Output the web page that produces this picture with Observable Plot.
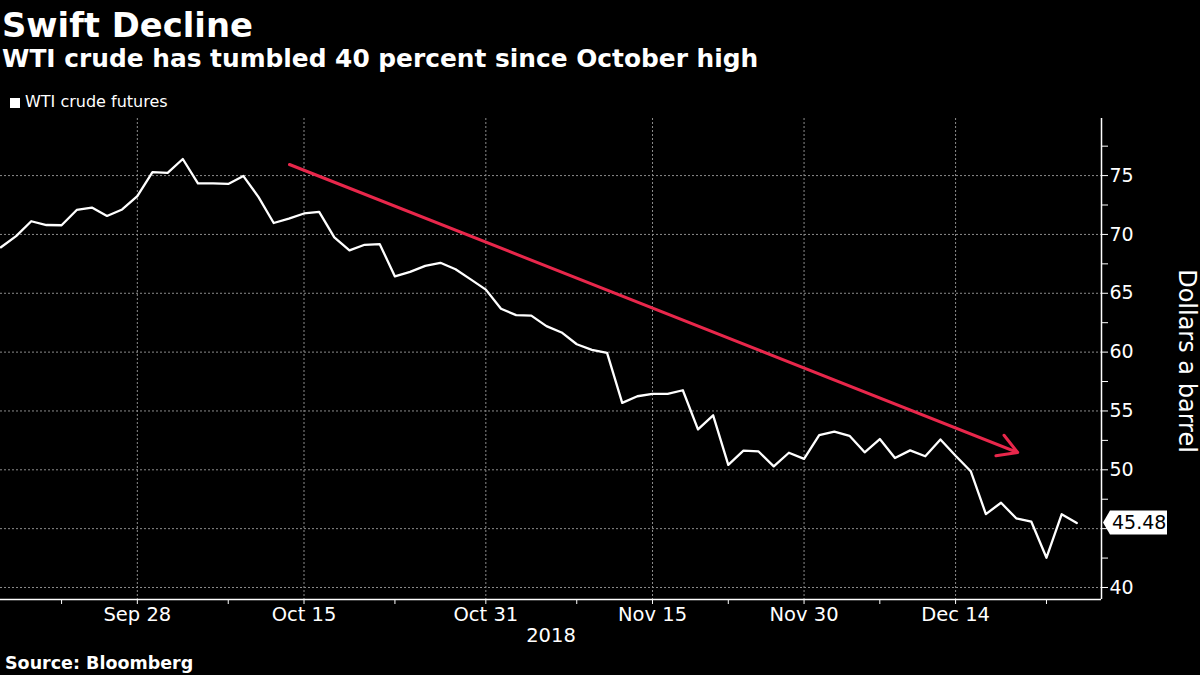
<!DOCTYPE html>
<html><head><meta charset="utf-8">
<script src="https://cdn.jsdelivr.net/npm/d3@7"></script>
<script src="https://cdn.jsdelivr.net/npm/@observablehq/plot@0.6"></script>
<style>
html,body{margin:0;padding:0;background:#000;width:1200px;height:675px;overflow:hidden}
body{font-family:"DejaVu Sans",sans-serif;color:#fff;position:relative}
.h{position:absolute;white-space:nowrap;line-height:1}
#title{left:2px;top:9px;font-weight:bold;font-size:33.8px}
#subtitle{left:2px;top:47px;font-weight:bold;font-size:24.85px}
#legend{left:10px;top:94px;font-size:16px}
#legend .sw{display:inline-block;width:10px;height:10px;background:#fff;margin-right:5px;vertical-align:-1px}
#chart{position:absolute;left:0;top:110px}
#source{left:5px;top:655px;font-weight:bold;font-size:17.5px}
</style></head>
<body>
<div id="title" class="h"></div>
<div id="subtitle" class="h"></div>
<div id="legend" class="h"><span class="sw"></span><span id="legtext"></span></div>
<div id="chart"></div>
<div id="source" class="h"></div>
<script>
const titleText = "Swift Decline";
const subtitleText = "WTI crude has tumbled 40 percent since October high";
const seriesName = "WTI crude futures";
const sourceText = "Source: Bloomberg";
const yAxisLabel = "Dollars a barrel";
const yearLabel = "2018";

// trading days
const dates = [
 "2018-09-17","2018-09-18","2018-09-19","2018-09-20","2018-09-21",
 "2018-09-24","2018-09-25","2018-09-26","2018-09-27","2018-09-28",
 "2018-10-01","2018-10-02","2018-10-03","2018-10-04","2018-10-05",
 "2018-10-08","2018-10-09","2018-10-10","2018-10-11","2018-10-12",
 "2018-10-15","2018-10-16","2018-10-17","2018-10-18","2018-10-19",
 "2018-10-22","2018-10-23","2018-10-24","2018-10-25","2018-10-26",
 "2018-10-29","2018-10-30","2018-10-31","2018-11-01","2018-11-02",
 "2018-11-05","2018-11-06","2018-11-07","2018-11-08","2018-11-09",
 "2018-11-12","2018-11-13","2018-11-14","2018-11-15","2018-11-16",
 "2018-11-19","2018-11-20","2018-11-21","2018-11-23",
 "2018-11-26","2018-11-27","2018-11-28","2018-11-29","2018-11-30",
 "2018-12-03","2018-12-04","2018-12-05","2018-12-06","2018-12-07",
 "2018-12-10","2018-12-11","2018-12-12","2018-12-13","2018-12-14",
 "2018-12-17","2018-12-18","2018-12-19","2018-12-20","2018-12-21",
 "2018-12-24","2018-12-26","2018-12-27"];

const prices = [
 68.91, 69.85, 71.12, 70.80, 70.78,
 72.08, 72.28, 71.57, 72.12, 73.25,
 75.30, 75.23, 76.41, 74.33, 74.34,
 74.29, 74.96, 73.17, 70.97, 71.34,
 71.78, 71.92, 69.75, 68.65, 69.12,
 69.17, 66.43, 66.82, 67.33, 67.59,
 67.04, 66.18, 65.31, 63.69, 63.14,
 63.10, 62.21, 61.67, 60.67, 60.19,
 59.93, 55.69, 56.25, 56.46, 56.46,
 56.76, 53.43, 54.63, 50.42,
 51.63, 51.56, 50.29, 51.45, 50.93,
 52.95, 53.25, 52.89, 51.49, 52.61,
 51.00, 51.65, 51.15, 52.58, 51.20,
 49.88, 46.24, 47.20, 45.88, 45.59,
 42.53, 46.22, 45.48];

const xMajorDates = ["2018-09-28","2018-10-15","2018-10-31","2018-11-15","2018-11-30","2018-12-14"];
const xMajorLabels = ["Sep 28","Oct 15","Oct 31","Nov 15","Nov 30","Dec 14"];
const xMinorDates = ["2018-09-21","2018-10-08","2018-10-23","2018-11-08","2018-11-23","2018-12-07","2018-12-24"];

const yMajorTicks = [40,45,50,55,60,65,70,75];
const yLabelTicks = [40,50,55,60,65,70,75]; // 45 sits under the last-value tag
const yMinorTicks = [42.5,47.5,52.5,57.5,62.5,67.5,72.5,77.5];

// trend arrow annotation (trading-day position, dollars)
const trendFromPos = 19.04, trendFromValue = 75.94;
const trendToPos = 67.1, trendToValue = 51.47;

const lastValue = prices[prices.length - 1];

document.getElementById("title").textContent = titleText;
document.getElementById("subtitle").textContent = subtitleText;
document.getElementById("legtext").textContent = seriesName;
document.getElementById("source").textContent = sourceText;

const pos = d => dates.indexOf(d);
const data = prices.map((v, i) => ({i, v, date: dates[i]}));
const xMajor = xMajorDates.map(pos);
const xMinor = xMinorDates.map(pos);
const xDomain = [-0.03, 72.63];
const yDomain = [38.98, 79.85];
const gridStyle = {stroke: "#8c8c8c", strokeOpacity: 1, strokeWidth: 1, strokeDasharray: "2,2"};
const font = '"DejaVu Sans",sans-serif';

const labelBox = (index, scales, values, dims) => {
  const g = d3.create("svg:g");
  const x0 = dims.width - dims.marginRight + 2;
  const y0 = scales.y(lastValue);
  const h = 12, w = 64, n = 7;
  g.append("path")
    .attr("d", `M${x0},${y0}L${x0+n},${y0-h}L${x0+w},${y0-h}L${x0+w},${y0+h}L${x0+n},${y0+h}Z`)
    .attr("fill", "#fff");
  g.append("text")
    .attr("x", x0 + n + 2).attr("y", y0).attr("dy", "0.36em")
    .attr("text-anchor", "start")
    .attr("fill", "#000").attr("font-size", 19).attr("font-family", font)
    .text(lastValue.toFixed(2));
  return g.node();
};

const chart = Plot.plot({
  width: 1200, height: 535,
  marginLeft: 0, marginRight: 99, marginTop: 8, marginBottom: 46,
  style: {background: "#000", color: "#fff", fontFamily: font, fontSize: "19px", overflow: "visible"},
  x: {domain: xDomain, axis: null},
  y: {domain: yDomain, axis: null},
  marks: [
    Plot.gridY(yMajorTicks, gridStyle),
    Plot.gridX(xMajor, gridStyle),
    Plot.ruleY([yDomain[0]], {stroke: "#fff", strokeWidth: 1.5}),
    Plot.ruleX([xDomain[1]], {stroke: "#fff", strokeWidth: 1.5}),
    Plot.axisX(xMajor.concat(xMinor), {
      tickSize: 5, tickPadding: 3, stroke: "#fff",
      tickFormat: d => { const k = xMajor.indexOf(d); return k >= 0 ? xMajorLabels[k] : ""; },
      label: null, fontSize: 19.5
    }),
    Plot.axisY(yMajorTicks.concat(yMinorTicks), {
      anchor: "right", tickSize: 6, tickPadding: 2, stroke: "#fff",
      tickFormat: d => yLabelTicks.includes(d) ? String(d) : "",
      label: null, fontSize: 19
    }),
    Plot.text([yearLabel], {frameAnchor: "bottom", dy: 42, text: d => d, fill: "#fff", fontSize: 19.5}),
    Plot.text([yAxisLabel], {frameAnchor: "right", textAnchor: "middle", rotate: 90, dx: 85, dy: 2, text: d => d, fill: "#fff", fontSize: 24}),
    Plot.line(data, {x: "i", y: "v", stroke: "#fff", strokeWidth: 2.3}),
    Plot.arrow([{x1: trendFromPos, y1: trendFromValue, x2: trendToPos, y2: trendToValue}],
      {x1: "x1", y1: "y1", x2: "x2", y2: "y2", stroke: "#e8274b", strokeWidth: 3, headLength: 11}),
    labelBox
  ]
});
document.getElementById("chart").appendChild(chart);
</script>
</body></html>
